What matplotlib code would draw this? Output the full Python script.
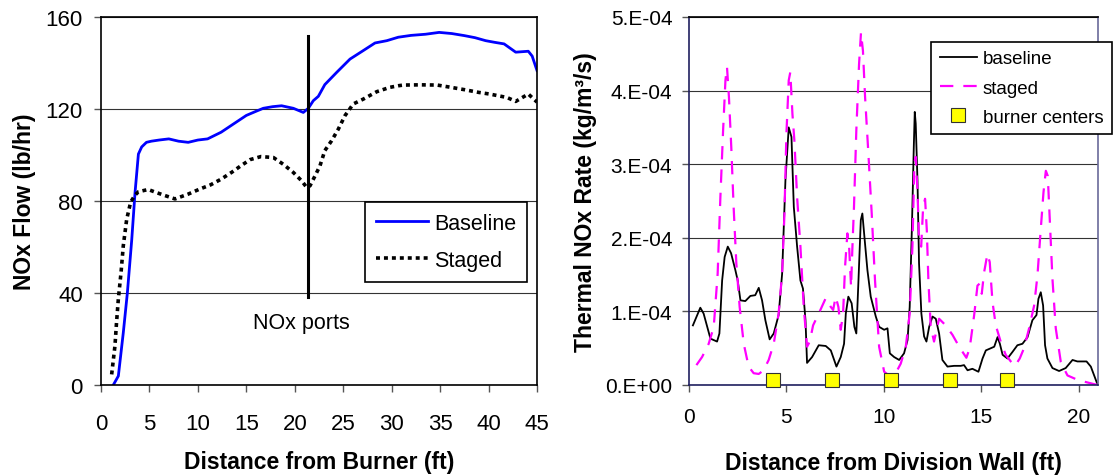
import matplotlib
matplotlib.use("Agg")
import matplotlib.pyplot as plt
from matplotlib.ticker import FuncFormatter

plt.rcParams['font.family'] = ['Liberation Sans', 'DejaVu Sans']

# left chart: NOx flow along the furnace
base_x = [1.27, 1.79, 2.3, 2.72, 3.17, 3.51, 3.86, 4.2, 4.69, 5.2,
          6.0, 7.0, 8.0, 9.0, 10.0, 11.0, 12.4, 13.5, 15.0, 16.0,
          16.75, 17.7, 18.64, 19.85, 20.88, 21.4, 21.91, 22.43, 23.1, 24.32,
          25.7, 27.07, 28.28, 29.5, 30.68, 32.0, 33.5, 34.9, 36.2, 37.5,
          38.6, 39.7, 40.6, 41.6, 42.8, 44.1, 44.5, 45.0]
base_y = [0, 3.9, 22.7, 40, 63, 83.5, 100.4, 103.5, 105.5, 106,
          106.5, 107, 106, 105.5, 106.5, 107, 109.9, 113, 117.2, 119,
          120.3, 121, 121.4, 120.3, 118.5, 120.3, 123.6, 125.5, 130.6, 135.9,
          141.7, 145.4, 148.7, 149.7, 151.2, 152, 152.5, 153.3, 152.8, 151.9,
          151, 149.7, 149, 148.3, 144.7, 145.1, 143, 136.7]
staged_x = [1.1, 1.44, 1.6, 1.79, 2.07, 2.3, 2.65, 3.06, 3.5, 3.86,
            4.87, 5.5, 6.5, 7.64, 9.0, 10.2, 11.3, 12.4, 13.5, 14.5,
            15.4, 16.5, 17.79, 18.8, 19.85, 20.7, 21.23, 21.57, 22.1, 22.6,
            23.1, 23.8, 24.5, 25.18, 26.04, 27.07, 28.45, 29.8, 30.68, 31.2,
            33.0, 34.7, 36.0, 37.5, 39.0, 40.1, 41.9, 42.8, 44.1, 45.0]
staged_y = [4.6, 17, 27, 37.4, 49, 60.5, 72, 79.5, 82.5, 84,
            85, 84, 82.5, 80.9, 83, 85.2, 87, 89.5, 92.5, 95.5,
            98, 99.3, 98.9, 96, 92.4, 88.8, 85.9, 86.6, 91, 95.3,
            101.9, 106.2, 111.3, 117.1, 122.2, 124.3, 127.5, 129.4, 130.1, 130.4,
            130.5, 130.4, 129.5, 128.4, 127.2, 126.5, 125, 123.3, 126.5, 123]
port_x = 21.4
port_span = (38.4, 151.6)

# right chart: thermal NOx rate across the furnace (units of 1e-4)
rb_x = [0.2, 0.58, 0.75, 1.1, 1.44, 1.56, 1.7, 1.83, 1.99, 2.16,
        2.38, 2.5, 2.64, 2.89, 3.15, 3.4, 3.58, 3.75, 3.92, 4.14,
        4.35, 4.6, 4.78, 4.95, 5.12, 5.26, 5.38, 5.55, 5.72, 5.85,
        5.98, 6.06, 6.32, 6.66, 7.02, 7.28, 7.57, 7.79, 7.96, 8.05,
        8.18, 8.35, 8.49, 8.59, 8.7, 8.82, 8.9, 9.02, 9.16, 9.33,
        9.59, 9.76, 10.02, 10.19, 10.31, 10.53, 10.79, 11.04, 11.22, 11.33,
        11.44, 11.54, 11.59, 11.64, 11.73, 11.81, 11.93, 12.07, 12.19, 12.33,
        12.5, 12.67, 12.84, 13.01, 13.27, 13.61, 13.95, 14.12, 14.3, 14.55,
        14.86, 15.07, 15.24, 15.5, 15.67, 15.84, 15.96, 16.1, 16.35, 16.61,
        16.86, 17.12, 17.38, 17.63, 17.84, 17.94, 18.06, 18.18, 18.28, 18.4,
        18.66, 19.0, 19.34, 19.69, 19.94, 20.2, 20.41, 20.63, 20.97]
rb_y = [0.81, 1.05, 0.97, 0.63, 0.59, 0.70, 1.42, 1.74, 1.88, 1.79,
        1.56, 1.42, 1.15, 1.14, 1.21, 1.22, 1.32, 1.15, 0.88, 0.62,
        0.70, 0.95, 1.51, 2.78, 3.50, 3.37, 2.42, 1.88, 1.42, 1.31,
        0.88, 0.30, 0.38, 0.54, 0.53, 0.47, 0.25, 0.38, 0.56, 0.97,
        1.20, 1.11, 0.79, 0.70, 1.42, 2.24, 2.33, 1.97, 1.56, 1.20,
        0.93, 0.79, 0.75, 0.77, 0.43, 0.38, 0.34, 0.43, 0.61, 1.06,
        2.10, 3.23, 3.71, 3.55, 2.78, 1.65, 0.97, 0.66, 0.59, 0.79,
        0.93, 0.90, 0.70, 0.34, 0.25, 0.26, 0.26, 0.27, 0.20, 0.22,
        0.18, 0.36, 0.47, 0.50, 0.52, 0.65, 0.56, 0.41, 0.36, 0.45,
        0.54, 0.56, 0.65, 0.88, 0.95, 1.17, 1.26, 1.08, 0.54, 0.36,
        0.23, 0.19, 0.23, 0.34, 0.32, 0.32, 0.32, 0.25, 0.01]
rs_x = [0.38, 0.67, 1.01, 1.27, 1.47, 1.61, 1.75, 1.87, 1.95, 2.05,
        2.17, 2.29, 2.43, 2.6, 2.81, 3.06, 3.32, 3.58, 3.83, 4.09,
        4.35, 4.6, 4.78, 4.9, 5.0, 5.12, 5.2, 5.31, 5.41, 5.55,
        5.72, 5.89, 6.06, 6.2, 6.37, 6.66, 7.02, 7.28, 7.4, 7.53,
        7.67, 7.79, 7.91, 8.01, 8.13, 8.22, 8.32, 8.39, 8.47, 8.59,
        8.73, 8.83, 8.93, 9.04, 9.21, 9.38, 9.55, 9.76, 10.02, 10.36,
        10.61, 10.87, 11.13, 11.33, 11.47, 11.57, 11.64, 11.73, 11.81, 11.92,
        12.02, 12.12, 12.21, 12.29, 12.41, 12.58, 12.84, 13.18, 13.53, 13.87,
        14.24, 14.41, 14.64, 14.81, 14.93, 15.03, 15.15, 15.32, 15.44, 15.58,
        15.75, 16.0, 16.26, 16.52, 16.74, 16.98, 17.2, 17.46, 17.72, 17.89,
        18.06, 18.2, 18.32, 18.42, 18.52, 18.66, 18.83, 19.09, 19.43, 19.86,
        20.37, 20.97]
rs_y = [0.27, 0.38, 0.56, 0.79, 1.51, 2.55, 3.46, 4.14, 4.32, 3.91,
        3.23, 2.42, 1.65, 1.06, 0.56, 0.25, 0.16, 0.15, 0.20, 0.34,
        0.56, 0.97, 1.51, 2.33, 3.41, 4.14, 4.25, 3.68, 3.32, 2.55,
        1.88, 1.06, 0.52, 0.59, 0.81, 0.97, 1.18, 1.06, 1.02, 1.20,
        1.06, 0.75, 0.97, 1.60, 2.06, 1.88, 1.33, 1.88, 2.42, 3.46,
        4.36, 4.79, 4.54, 3.91, 3.14, 2.33, 1.42, 0.52, 0.18, 0.11,
        0.16, 0.29, 0.52, 0.97, 1.88, 3.01, 3.10, 2.64, 1.97, 1.88,
        2.42, 2.53, 2.10, 1.42, 0.79, 0.59, 0.90, 0.81, 0.68, 0.52,
        0.37, 0.50, 0.95, 1.35, 1.38, 1.24, 1.53, 1.78, 1.67, 1.13,
        0.81, 0.59, 0.41, 0.32, 0.26, 0.36, 0.50, 0.77, 1.08, 1.49,
        2.12, 2.62, 2.91, 2.84, 2.26, 1.44, 0.77, 0.31, 0.13, 0.08,
        0.04, 0.0]
burner_x = [4.3, 7.35, 10.35, 13.4, 16.35]
burner_y = [0.07, 0.07, 0.07, 0.07, 0.07]

fig = plt.figure(figsize=(11.16, 4.77), dpi=100)

# ---- left panel
ax1 = fig.add_axes([0.0905, 0.1908, 0.3907, 0.7715])
ax1.plot(base_x, base_y, color='#0000ff', lw=2.0, label='Baseline')
ax1.plot(staged_x, staged_y, color='black', lw=2.6, dashes=(1.1, 1.1), label='Staged')
ax1.plot([port_x, port_x], port_span, color='black', lw=2.2)
ax1.text(20.7, 27.3, 'NOx ports', fontsize=15.5, ha='center', va='center')

ax1.set_xlim(0, 45)
ax1.set_ylim(0, 160)
ax1.set_xticks(range(0, 46, 5))
ax1.set_yticks(range(0, 161, 40))
ax1.yaxis.grid(True, color='#333333', lw=0.8)
ax1.set_axisbelow(True)
for s in ax1.spines.values():
    s.set_color('black')
    s.set_linewidth(1.2)
ax1.tick_params(direction='out', length=5, width=1, color='#555555', labelsize=16)
ax1.tick_params(axis='x', pad=15)
ax1.tick_params(axis='y', pad=8)
ax1.set_xlabel('Distance from Burner (ft)', fontsize=16.5, fontweight='bold', labelpad=12)
ax1.set_ylabel('NOx Flow (lb/hr)', fontsize=16.5, fontweight='bold', labelpad=7)
leg1 = ax1.legend(loc='upper left', bbox_to_anchor=(0.606, 0.497), borderaxespad=0,
                  fontsize=15.5, frameon=True, fancybox=False, framealpha=1,
                  edgecolor='black', handlelength=2.4, borderpad=0.5,
                  labelspacing=0.75, handletextpad=0.3)
leg1.get_frame().set_linewidth(1.2)

# ---- right panel
ax2 = fig.add_axes([0.6174, 0.1908, 0.3665, 0.7715])
ax2.plot(rb_x, [v * 1e-4 for v in rb_y], color='black', lw=1.3, label='baseline')
ax2.plot(rs_x, [v * 1e-4 for v in rs_y], color='#ff00ff', lw=1.6, dashes=(6, 4.5), label='staged')
ax2.plot(burner_x, [v * 1e-4 for v in burner_y], ls='none', marker='s', markersize=10,
         markerfacecolor='#ffff00', markeredgecolor='#333333', markeredgewidth=0.8,
         label='burner centers', clip_on=False, zorder=5)

ax2.set_xlim(0, 21)
ax2.set_ylim(0, 5e-4)
ax2.set_xticks(range(0, 21, 5))
ax2.set_yticks([i * 1e-4 for i in range(6)])


def excel_sci(v, pos):
    if abs(v) < 1e-12:
        return '0.E+00'
    return '%d.E-04' % round(v / 1e-4)


ax2.yaxis.set_major_formatter(FuncFormatter(excel_sci))
ax2.yaxis.grid(True, color='#333333', lw=0.8)
ax2.set_axisbelow(True)
ax2.spines['left'].set_color('#202060')
ax2.spines['bottom'].set_color('#202060')
ax2.spines['right'].set_color('#6a6a9a')
ax2.spines['top'].set_color('black')
for s in ax2.spines.values():
    s.set_linewidth(1.2)
ax2.tick_params(direction='out', length=5, width=1, color='#555555', labelsize=15)
ax2.tick_params(axis='x', pad=11)
ax2.tick_params(axis='y', pad=7)
ax2.set_xlabel('Distance from Division Wall (ft)', fontsize=16.5, fontweight='bold', labelpad=18)
ax2.set_ylabel('Thermal NOx Rate (kg/m³/s)', fontsize=16.5, fontweight='bold', labelpad=6)
leg2 = ax2.legend(loc='upper left', bbox_to_anchor=(0.592, 0.933), borderaxespad=0,
                  fontsize=13.5, frameon=True, fancybox=False, framealpha=1,
                  edgecolor='black', handlelength=2.0, borderpad=0.45,
                  labelspacing=0.65, handletextpad=0.3)
leg2.get_frame().set_linewidth(1.2)

fig.savefig('out.png', dpi=100)
